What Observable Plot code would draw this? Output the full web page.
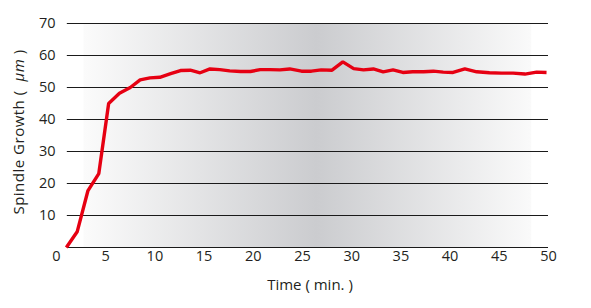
<!DOCTYPE html>
<html>
<head>
<meta charset="utf-8">
<script src="https://cdn.jsdelivr.net/npm/d3@7"></script>
<script src="https://cdn.jsdelivr.net/npm/@observablehq/plot@0.6"></script>
<style>
  html, body { margin: 0; padding: 0; background: #fff; }
  #chart svg { display: block; }
</style>
</head>
<body>
<div id="chart"></div>
<script>
const time = [1, 2.1, 3.2, 4.3, 5.3, 6.4, 7.5, 8.5, 9.5, 10.5, 11.6, 12.6, 13.6, 14.6, 15.6, 16.6, 17.6, 18.7, 19.7, 20.7, 21.7, 22.7, 23.7, 24.9, 25.9, 26.9, 28, 29.1, 30.2, 31.2, 32.2, 33.2, 34.2, 35.2, 36.2, 37.3, 38.3, 39.3, 40.3, 41.5, 42.7, 44, 45.2, 46.4, 47.6, 48.8, 49.8];
const growth = [0, 4.9, 17.8, 23.1, 45, 48.2, 50, 52.4, 53, 53.2, 54.3, 55.3, 55.4, 54.6, 55.8, 55.6, 55.2, 55, 55, 55.6, 55.6, 55.5, 55.8, 55.1, 55.1, 55.5, 55.4, 58, 55.9, 55.5, 55.8, 54.9, 55.5, 54.7, 54.9, 54.9, 55.1, 54.8, 54.7, 55.8, 54.9, 54.6, 54.5, 54.5, 54.2, 54.8, 54.7];
const xTicks = [0, 5, 10, 15, 20, 25, 30, 35, 40, 45, 50];
const yTicks = [10, 20, 30, 40, 50, 60, 70];
const gridLevels = [0, 10, 20, 30, 40, 50, 60, 70];
const xTitle = "Time ( min. )";
const yTitle = ["Spindle Growth (  ", "μm", " )"];

const data = time.map((t, i) => ({t, v: growth[i]}));

const font = "'Open Sans', 'DejaVu Sans', sans-serif";

const plot = Plot.plot({
  width: 591,
  height: 308,
  marginLeft: 56,
  marginRight: 43,
  marginTop: 23,
  marginBottom: 61,
  style: {fontFamily: font, fontSize: "14.5px", color: "#231f20", background: "#fff"},
  x: {domain: [0, 50], ticks: xTicks, tickSize: 0, tickPadding: 3, label: null},
  y: {domain: [0, 70], ticks: yTicks, tickSize: 0, tickPadding: 1, label: null},
  marks: [
    Plot.rect([{}], {x1: 2.8, x2: 48.3, y1: 0, y2: 70, fill: "url(#bggrad)"}),
    Plot.ruleY(gridLevels, {x1: 1.1, x2: 50, stroke: "#1a1a1a", strokeWidth: 1.2}),
    Plot.line(data, {x: "t", y: "v", stroke: "#e60012", strokeWidth: 3.4, strokeLinejoin: "miter", strokeLinecap: "butt"})
  ]
});

const svg = d3.select(plot);
const defs = svg.insert("defs", ":first-child");
const g = defs.append("linearGradient").attr("id", "bggrad").attr("x1", "0").attr("x2", "1").attr("y1", "0").attr("y2", "0");
g.append("stop").attr("offset", "0%").attr("stop-color", "#fbfbfb");
g.append("stop").attr("offset", "52%").attr("stop-color", "#cbcccf");
g.append("stop").attr("offset", "100%").attr("stop-color", "#fafafa");

svg.append("text")
  .attr("x", 310).attr("y", 290)
  .attr("text-anchor", "middle")
  .attr("fill", "#231f20")
  .style("font-family", font).style("font-size", "15px")
  .text(xTitle);

const yt = svg.append("text")
  .attr("transform", "translate(24,132) rotate(-90)")
  .attr("text-anchor", "middle")
  .attr("fill", "#231f20")
  .style("font-family", font).style("font-size", "15px")
  .style("letter-spacing", "0.5px")
  .style("white-space", "pre");
yt.append("tspan").text(yTitle[0]);
yt.append("tspan").style("font-style", "italic").text(yTitle[1]);
yt.append("tspan").text(yTitle[2]);

document.getElementById("chart").appendChild(plot);
</script>
</body>
</html>
